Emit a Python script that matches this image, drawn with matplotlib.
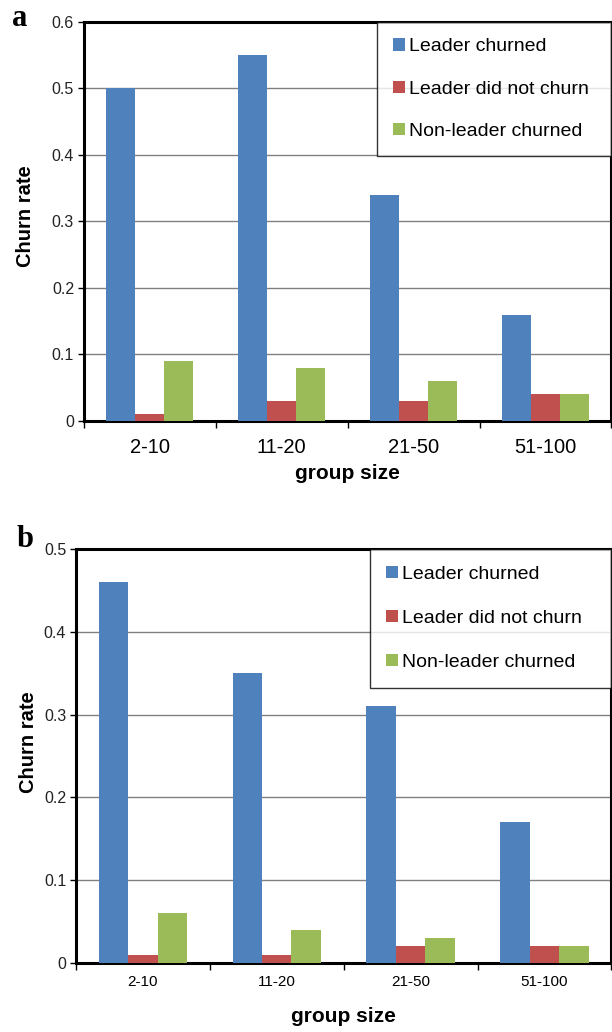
import numpy as np
import matplotlib
matplotlib.use("Agg")
import matplotlib.pyplot as plt

plt.rcParams["font.family"] = "Liberation Sans"

groups = ["2-10", "11-20", "21-50", "51-100"]
series_names = ["Leader churned", "Leader did not churn", "Non-leader churned"]
colors = ["#4F81BD", "#C0504D", "#9BBB59"]

# panel a
a_leader_churned = [0.50, 0.55, 0.34, 0.16]
a_leader_stayed = [0.01, 0.03, 0.03, 0.04]
a_nonleader_churned = [0.09, 0.08, 0.06, 0.04]
a_yticks = [0, 0.1, 0.2, 0.3, 0.4, 0.5, 0.6]

# panel b
b_leader_churned = [0.46, 0.35, 0.31, 0.17]
b_leader_stayed = [0.01, 0.01, 0.02, 0.02]
b_nonleader_churned = [0.06, 0.04, 0.03, 0.02]
b_yticks = [0, 0.1, 0.2, 0.3, 0.4, 0.5]

fig = plt.figure(figsize=(6.12, 10.32), dpi=100)
ax_a = fig.add_axes([0.137, 0.592, 0.862, 0.387])
ax_b = fig.add_axes([0.124, 0.067, 0.875, 0.401])


def draw_panel(ax, data, yticks, xfs, xpad, xlab_pad, ylab_xy, leg_anchor, ls):
    x = np.arange(len(groups))
    w = 0.22
    for i, vals in enumerate(data):
        ax.bar(x + (i - 1) * w, vals, w, color=colors[i], label=series_names[i],
               zorder=3)
    ax.set_xlim(-0.5, len(groups) - 0.5)
    ax.set_ylim(0, yticks[-1])
    ax.set_yticks(yticks)
    ax.set_yticklabels([f"{t:g}" for t in yticks], fontsize=11.5, color="#222222")
    ax.set_xticks(x)
    ax.set_xticklabels(groups, fontsize=xfs)
    ax.xaxis.set_minor_locator(matplotlib.ticker.FixedLocator(np.arange(-0.5, len(groups), 1)))
    ax.tick_params(axis="x", which="major", length=0, pad=xpad)
    ax.tick_params(axis="x", which="minor", length=5, width=1, direction="out")
    ax.tick_params(axis="y", length=4, width=1, pad=3)
    ax.grid(axis="y", color="#808080", linewidth=1, zorder=0)
    for s in ax.spines.values():
        s.set_linewidth(2.2)
        s.set_color("black")
    ax.set_xlabel("group size", fontsize=15, fontweight="bold", labelpad=xlab_pad)
    ax.set_ylabel("Churn rate", fontsize=14.5, fontweight="bold")
    ax.yaxis.label.set_va("center")
    ax.yaxis.set_label_coords(*ylab_xy)
    leg = ax.legend(loc="upper left", bbox_to_anchor=leg_anchor, mode="expand",
                    fontsize=14, frameon=True, fancybox=False, edgecolor="black",
                    handlelength=0.6, handleheight=0.6, handletextpad=0.2,
                    labelspacing=ls, borderpad=0.85, borderaxespad=0)
    leg.get_frame().set_linewidth(1)
    leg.set_zorder(5)


draw_panel(ax_a, [a_leader_churned, a_leader_stayed, a_nonleader_churned],
           a_yticks, 14.5, 12, 5, (-0.11, 0.514), (0.555, 1.0, 0.445, 0.0), 1.3)
draw_panel(ax_b, [b_leader_churned, b_leader_stayed, b_nonleader_churned],
           b_yticks, 11, 8.5, 13, (-0.088, 0.534), (0.549, 1.0, 0.451, 0.0), 1.4)

fig.text(0.02, 0.982, "a", fontsize=22, fontweight="bold", family="Liberation Serif",
         va="center")
fig.text(0.027, 0.477, "b", fontsize=22, fontweight="bold", family="Liberation Serif",
         va="center")

fig.savefig("out.png", dpi=100)
